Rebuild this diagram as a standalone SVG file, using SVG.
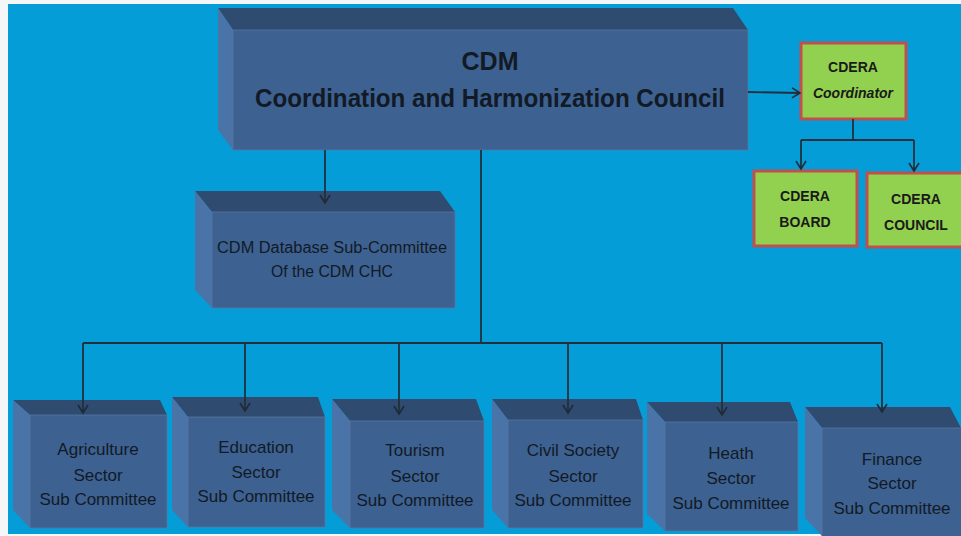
<svg xmlns="http://www.w3.org/2000/svg" width="961" height="536" viewBox="0 0 961 536">
<defs>
<marker id="ah" markerWidth="12" markerHeight="12" refX="10" refY="6" orient="auto" markerUnits="userSpaceOnUse">
<path d="M2,1 L10,6 L2,11" fill="none" stroke="#1e2a36" stroke-width="1.6"/>
</marker>
</defs>
<style>
.top{fill:#2f4b70}
.front{fill:#3d6190;stroke:#5676a0;stroke-width:0.8}
.left{fill:#4a73a7}
.t{font-family:"Liberation Sans",Arial,sans-serif;fill:#121a26;text-anchor:middle}
.s{font-size:17px}
.g{fill:#92d050;stroke:#c0504d;stroke-width:3}
.gt{font-family:"Liberation Sans",Arial,sans-serif;font-weight:bold;font-size:14px;fill:#1a1a1a;text-anchor:middle}
.c{fill:none;stroke:#22303c;stroke-width:1.8}
</style>
<rect x="0" y="0" width="961" height="536" fill="#f4f6f8"/>
<rect x="8" y="4" width="953" height="530" fill="#059dd8"/>

<g id="chc">
<polygon class="top" points="218,8 733,8 748,30 233,30"/>
<polygon class="left" points="218,8 233,30 233,150 218,130"/>
<rect class="front" x="233" y="30" width="515" height="120"/>
<text class="t" x="490" y="70" font-size="25" font-weight="bold">CDM</text>
<text class="t" x="490" y="107" font-size="25" font-weight="bold" textLength="470" lengthAdjust="spacingAndGlyphs">Coordination and Harmonization Council</text>
</g>

<g id="db">
<polygon class="top" points="195,191 440,191 455,212 212,212"/>
<polygon class="left" points="195,191 212,212 212,308 195,290"/>
<rect class="front" x="212" y="212" width="243" height="96"/>
<text class="t" x="332" y="253" font-size="16" textLength="230" lengthAdjust="spacingAndGlyphs">CDM Database Sub-Committee</text>
<text class="t" x="332" y="277" font-size="16" textLength="122" lengthAdjust="spacingAndGlyphs">Of the CDM CHC</text>
</g>

<g id="coordinator">
<rect class="g" x="801" y="43" width="105" height="76"/>
<text class="gt" x="853" y="72">CDERA</text>
<text class="gt" x="853" y="98" font-style="italic" font-size="14.5">Coordinator</text>
</g>
<g id="board">
<rect class="g" x="754" y="171" width="103" height="75"/>
<text class="gt" x="805" y="201">CDERA</text>
<text class="gt" x="805" y="227">BOARD</text>
</g>
<g id="council">
<rect class="g" x="867" y="173" width="100" height="74"/>
<text class="gt" x="916" y="204">CDERA</text>
<text class="gt" x="916" y="230">COUNCIL</text>
</g>

<g id="agriculture">
<polygon class="top" points="13,400 160,400 167,415 30,415"/>
<polygon class="left" points="13,400 30,415 30,528 13,510"/>
<rect class="front" x="30" y="415" width="137" height="113"/>
<text class="t s" x="98" y="455">Agriculture</text>
<text class="t s" x="98" y="481">Sector</text>
<text class="t s" x="98" y="505">Sub Committee</text>
</g>
<g id="education">
<polygon class="top" points="172,397 318,397 325,417 188,417"/>
<polygon class="left" points="172,397 188,417 188,527 172,510"/>
<rect class="front" x="188" y="417" width="137" height="110"/>
<text class="t s" x="256" y="453">Education</text>
<text class="t s" x="256" y="478">Sector</text>
<text class="t s" x="256" y="502">Sub Committee</text>
</g>
<g id="tourism">
<polygon class="top" points="332,399 476,399 484,421 350,421"/>
<polygon class="left" points="332,399 350,421 350,528 332,510"/>
<rect class="front" x="350" y="421" width="134" height="107"/>
<text class="t s" x="415" y="456">Tourism</text>
<text class="t s" x="415" y="482">Sector</text>
<text class="t s" x="415" y="506">Sub Committee</text>
</g>
<g id="civil">
<polygon class="top" points="492,399 636,399 643,420 508,420"/>
<polygon class="left" points="492,399 508,420 508,528 492,510"/>
<rect class="front" x="508" y="420" width="135" height="108"/>
<text class="t s" x="573" y="456">Civil Society</text>
<text class="t s" x="573" y="482">Sector</text>
<text class="t s" x="573" y="506">Sub Committee</text>
</g>
<g id="health">
<polygon class="top" points="647,402 790,402 798,422 665,422"/>
<polygon class="left" points="647,402 665,422 665,531 647,514"/>
<rect class="front" x="665" y="422" width="133" height="109"/>
<text class="t s" x="731" y="459">Heath</text>
<text class="t s" x="731" y="484">Sector</text>
<text class="t s" x="731" y="509">Sub Committee</text>
</g>
<g id="finance">
<polygon class="top" points="805,407 950,407 961,428 822,428"/>
<polygon class="left" points="805,407 822,428 822,536 805,518"/>
<rect class="front" x="822" y="428" width="145" height="110"/>
<text class="t s" x="892" y="465">Finance</text>
<text class="t s" x="892" y="489">Sector</text>
<text class="t s" x="892" y="514">Sub Committee</text>
</g>

<g id="connectors">
<line class="c" x1="325" y1="150" x2="325" y2="203" marker-end="url(#ah)"/>
<line class="c" x1="748" y1="92" x2="800" y2="93" marker-end="url(#ah)"/>
<polyline class="c" points="853,119 853,140"/>
<polyline class="c" points="801,140 914,140"/>
<line class="c" x1="801" y1="140" x2="801" y2="169" marker-end="url(#ah)"/>
<line class="c" x1="914" y1="140" x2="914" y2="171" marker-end="url(#ah)"/>
<line class="c" x1="481" y1="150" x2="481" y2="343"/>
<line class="c" x1="83" y1="343" x2="882" y2="343"/>
<line class="c" x1="83" y1="343" x2="83" y2="413" marker-end="url(#ah)"/>
<line class="c" x1="245" y1="343" x2="245" y2="411" marker-end="url(#ah)"/>
<line class="c" x1="399" y1="343" x2="399" y2="414" marker-end="url(#ah)"/>
<line class="c" x1="568" y1="343" x2="568" y2="413" marker-end="url(#ah)"/>
<line class="c" x1="722" y1="343" x2="722" y2="415" marker-end="url(#ah)"/>
<line class="c" x1="882" y1="343" x2="882" y2="412" marker-end="url(#ah)"/>
</g>
</svg>
